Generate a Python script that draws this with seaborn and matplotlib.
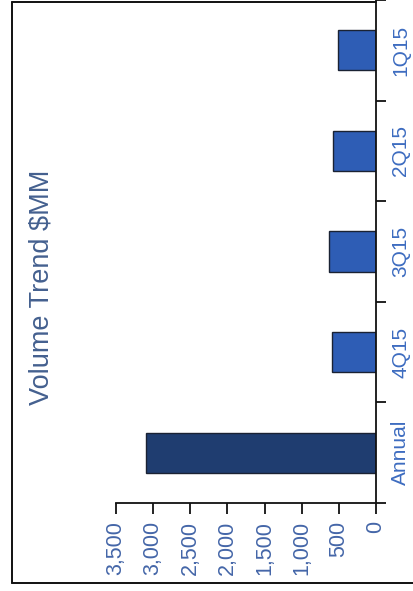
import matplotlib
matplotlib.use("Agg")
import matplotlib.pyplot as plt
from matplotlib.lines import Line2D
from matplotlib.ticker import FixedLocator, FuncFormatter
import seaborn as sns
import pandas as pd

# Volume by period, $MM
periods = ["1Q15", "2Q15", "3Q15", "4Q15", "Annual"]
volumes = [510, 580, 630, 590, 3090]
value_ticks = [0, 500, 1000, 1500, 2000, 2500, 3000, 3500]
bar_colors = ["#2E5DB5", "#2E5DB5", "#2E5DB5", "#2E5DB5", "#1F3D70"]

sns.set_style("white")
plt.rcParams["font.family"] = ["Liberation Sans", "DejaVu Sans"]

df = pd.DataFrame({"period": periods, "volume": volumes})

W, H = 414, 591
fig = plt.figure(figsize=(W / 100, H / 100), dpi=100)
ax = fig.add_axes([116 / W, 1 - 503 / H, (376 - 116) / W, 503 / H])

sns.barplot(
    data=df, x="volume", y="period", hue="period", order=periods,
    palette=dict(zip(periods, bar_colors)), orient="h", width=0.4,
    saturation=1, edgecolor="#1a2233", linewidth=1.0, legend=False, ax=ax,
)

# value axis runs right-to-left with 0 at the category axis
ax.set_xlim(3500, 0)
ax.set_ylim(len(periods) - 0.5, -0.5)
ax.set_xlabel("")
ax.set_ylabel("")

for side in ["top", "left"]:
    ax.spines[side].set_visible(False)
for side in ["bottom", "right"]:
    ax.spines[side].set_visible(True)
    ax.spines[side].set_linewidth(1.3)
    ax.spines[side].set_color("#111111")

ax.xaxis.set_major_locator(FixedLocator(value_ticks))
ax.xaxis.set_major_formatter(FuncFormatter(lambda v, p: f"{int(v):,}"))
ax.tick_params(axis="x", bottom=True, direction="out", length=8, width=1.3,
               color="#111111", pad=5, labelsize=15.5, labelcolor="#4466a8",
               labelrotation=90)

# category axis on the right, ticks at band boundaries
ax.yaxis.tick_right()
ax.set_yticks(range(len(periods)))
ax.set_yticklabels(periods)
ax.set_yticks([i - 0.5 for i in range(len(periods) + 1)], minor=True)
ax.tick_params(axis="y", which="major", right=True, left=False, length=0,
               pad=11, labelsize=15, labelcolor="#3D6CC0")
ax.tick_params(axis="y", which="minor", right=True, left=False, length=7,
               width=1.3, color="#111111", direction="out")
for lbl in ax.get_yticklabels():
    lbl.set_rotation(90)
    lbl.set_horizontalalignment("left")
    lbl.set_verticalalignment("center")

fig.text(42 / W, 1 - 287 / H, "Volume Trend $MM", rotation=90,
         ha="center", va="center", fontsize=19.5, color="#44608f")

# surrounding frame
frame_kw = dict(color="#111111", linewidth=1.4, transform=fig.transFigure)
fig.add_artist(Line2D([12 / W, 12 / W], [1 - 2 / H, 1 - 583 / H], **frame_kw))
fig.add_artist(Line2D([12 / W, 376 / W], [1 - 2 / H, 1 - 2 / H], **frame_kw))
fig.add_artist(Line2D([12 / W, 1.0], [1 - 583 / H, 1 - 583 / H], **frame_kw))

fig.savefig("out.png", dpi=100)
